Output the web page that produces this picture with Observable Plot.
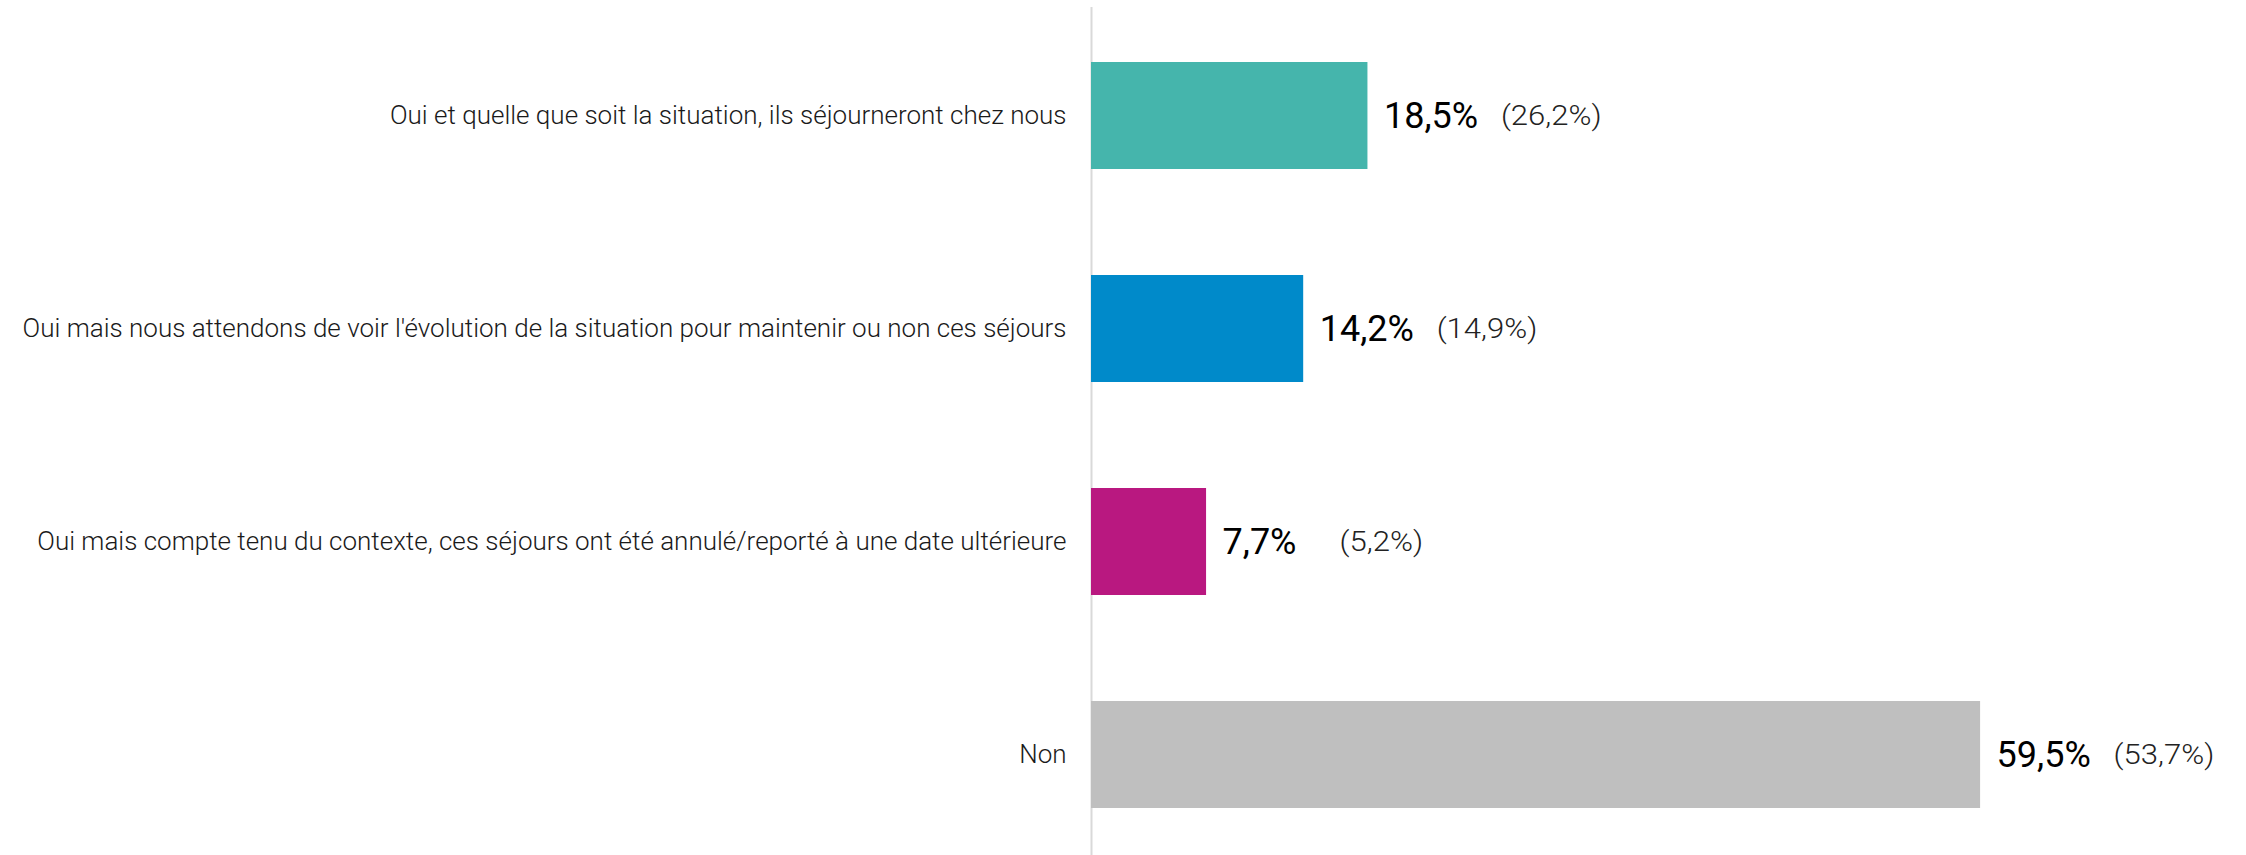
<!DOCTYPE html>
<html><head><meta charset="utf-8">
<script src="https://cdn.jsdelivr.net/npm/d3@7"></script>
<script src="https://cdn.jsdelivr.net/npm/@observablehq/plot@0.6"></script>
<style>body{margin:0;background:#fff}</style>
</head><body><div id="chart"></div>
<script>
const categories = [
  "Oui et quelle que soit la situation, ils séjourneront chez nous",
  "Oui mais nous attendons de voir l'évolution de la situation pour maintenir ou non ces séjours",
  "Oui mais compte tenu du contexte, ces séjours ont été annulé/reporté à une date ultérieure",
  "Non"
];
const values = [18.5, 14.2, 7.7, 59.5];
const previousValues = [26.2, 14.9, 5.2, 53.7];
const colors = ["#45B5AC", "#008ACA", "#B91880", "#BFBFBF"];
const fmt = v => v.toFixed(1).replace(".", ",") + "%";
const data = categories.map((c, i) => ({
  category: c, value: values[i],
  label: fmt(values[i]), prev: "(" + fmt(previousValues[i]) + ")"
}));
const font = "Roboto, sans-serif";
const chart = Plot.plot({
  width: 2246, height: 855,
  marginLeft: 1091, marginRight: 109, marginTop: 7, marginBottom: 0,
  style: {fontFamily: font, background: "#fff"},
  x: {domain: [0, 70], axis: null},
  y: {domain: categories, range: [7, 862], paddingInner: 0.5, paddingOuter: 0.254, axis: null},
  color: {domain: categories, range: colors},
  marks: [
    Plot.ruleX([0], {stroke: "#d9d9d9", strokeWidth: 2}),
    Plot.barX(data, {y: "category", x: "value", fill: "category"}),
    Plot.text(data, {y: "category", x: 0, text: "category", textAnchor: "end", dx: -25, fontSize: 26, fontWeight: 300, fill: "#1a1a1a"}),
    Plot.text(data, {y: "category", x: "value", text: "label", textAnchor: "start", dx: 16, fontSize: 36, fontWeight: 400, fill: "#000"}),
    Plot.text(data, {y: "category", x: "value", text: "prev", textAnchor: "start", dx: 133, fontSize: 28, fontWeight: 300, fill: "#222"})
  ]
});
document.getElementById("chart").appendChild(chart);
// the original's parenthetical figures use a wider face: stretch glyphs by a constant factor
const stretch = [1, 1, 1.11];
chart.querySelectorAll('g[aria-label="text"]').forEach((g, gi) => {
  const k = stretch[gi];
  if (k === 1) return;
  g.querySelectorAll("text").forEach(t => {
    const w = t.getComputedTextLength();
    t.setAttribute("textLength", (w * k).toFixed(1));
    t.setAttribute("lengthAdjust", "spacingAndGlyphs");
  });
});
</script>
</body></html>
